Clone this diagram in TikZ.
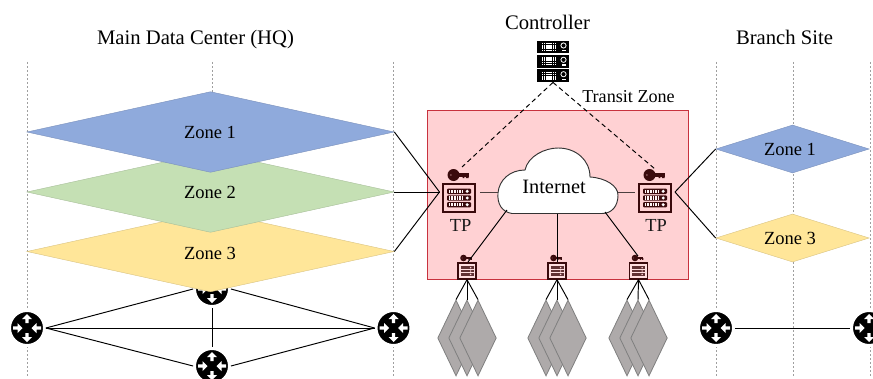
\documentclass[tikz,border=0pt]{standalone}
\usepackage{fontspec}
\setmainfont{Liberation Serif}
\usetikzlibrary{shapes.geometric,arrows.meta}
\definecolor{zblue}{HTML}{8FAADC}
\definecolor{zgreen}{HTML}{C5E0B4}
\definecolor{zyellow}{HTML}{FFE699}
\definecolor{tzfill}{HTML}{FFD1D3}
\definecolor{tzline}{HTML}{C8323E}
\definecolor{maroon}{HTML}{3A0A0C}
\definecolor{devgrey}{HTML}{AEAAAA}
\definecolor{devline}{HTML}{7F7F7F}
\tikzset{
  lab/.style={font=\fontsize{15.5}{18}\selectfont,inner sep=0pt,anchor=base},
  zonelab/.style={font=\fontsize{13.9}{16}\selectfont,inner sep=0pt},
  bigzone/.style={diamond,aspect=1,inner sep=0pt,minimum width=275.5pt,minimum height=60.5pt,draw=#1!85!black,line width=.3pt,fill=#1},
  smallzone/.style={diamond,aspect=1,inner sep=0pt,minimum width=115pt,minimum height=36pt,draw=#1!85!black,line width=.3pt,fill=#1},
  rackline/.style={gray!75,line width=.5pt,dash pattern=on 1.5pt off 1.5pt},
  conn/.style={black,line width=.72pt},
  ctrl/.style={black,line width=.72pt,dash pattern=on 3.5pt off 2.5pt},
  router/.style={circle,fill=black,draw=white,line width=2.2pt,minimum size=26.2pt,inner sep=0pt},
  tpbox/.style={rectangle,draw=maroon,fill=tzfill,line width=1.4pt,minimum width=23.5pt,minimum height=20.5pt,inner sep=0pt,outer sep=3pt},
  smallbox/.style={rectangle,draw=maroon,fill=tzfill!70!white,line width=1pt,minimum width=13.5pt,minimum height=12pt,inner sep=0pt},
  dev/.style={diamond,aspect=1,inner sep=0pt,minimum width=27.5pt,minimum height=57pt,draw=devline,line width=.6pt,fill=devgrey},
}
\newcommand{\routerglyph}[2]{%
  \begin{scope}[shift={(#1,#2)},fill=white,draw=none]
    \fill (-1.7,-5) -- (-1.7,-9) -- (-5,-9) -- (0,-14) -- (5,-9) -- (1.7,-9) -- (1.7,-5) -- cycle;
    \fill (-1.7,5) -- (-1.7,9) -- (-5,9) -- (0,14) -- (5,9) -- (1.7,9) -- (1.7,5) -- cycle;
    \fill (-14,-1.7) -- (-9.5,-1.7) -- (-9.5,-5) -- (-4.5,0) -- (-9.5,5) -- (-9.5,1.7) -- (-14,1.7) -- cycle;
    \fill (14,-1.7) -- (9.5,-1.7) -- (9.5,-5) -- (4.5,0) -- (9.5,5) -- (9.5,1.7) -- (14,1.7) -- cycle;
  \end{scope}}
\newcommand{\keyglyph}[3]{%
  \begin{scope}[shift={(#1,#2)},scale=#3]
    \fill[maroon] (0,0) circle[radius=6];
    \fill[maroon] (2,-1.6) rectangle (15,1.6);
    \fill[maroon] (9,0) rectangle (10.8,3.2) (12.4,0) rectangle (15,3.2);
    \fill[tzfill!40!maroon] (-2.6,0) circle[radius=1];
  \end{scope}}
\newcommand{\tprows}[2]{%
  \begin{scope}[shift={(#1,#2)}]
    \foreach \yy in {-6.7,0,6.7}{
      \fill[maroon,rounded corners=.8] (-12,\yy-2.7) rectangle (12,\yy+2.7);
      \foreach \xx in {-10,-8.4,...,4}{\fill[white!80!tzfill] (\xx,\yy-1.6) rectangle ++(1,3.2);}
      \fill[white] (8.2,\yy) circle[radius=1.7];
    }
  \end{scope}}
\newcommand{\smallrows}[2]{%
  \begin{scope}[shift={(#1,#2)}]
    \foreach \yy in {-3.4,0,3.4}{
      \fill[maroon!80!tzfill] (-6.5,\yy-1.3) rectangle (6.5,\yy+1.3);
      \fill[tzfill] (3.6,\yy) circle[radius=.8];
    }
  \end{scope}}
\newcommand{\ctrlrow}[2]{%
  \begin{scope}[shift={(#1,#2)}]
    \fill[black] (-16,-6.3) rectangle (16,6.3);
    \foreach \yy in {-4,-1.8,.4,2.6}{\foreach \xx in {-11.5,-9.3,...,3.8}{\fill[white] (\xx,\yy) rectangle ++(1.6,1.4);}}
    \draw[white,line width=.6pt] (10.5,-1.5) circle[radius=2.6];
    \fill[white] (8.5,3.2) rectangle (13,4.4);
  \end{scope}}
\begin{document}
\begin{tikzpicture}[x=.75pt,y=-.75pt]
\useasboundingbox (0,0) rectangle (873,378);
\foreach \x/\n in {27/a,212/b,393/c,716/d,793/e,870/f}{
  \coordinate (top\n) at (\x,62);
  \coordinate (bot\n) at (\x,378);
  \draw[rackline] (top\n) -- (bot\n);
}
\node[router] (r1) at (27,328) {};
\node[router] (r2) at (212,289) {};
\node[router] (r3) at (393.5,328) {};
\node[router] (r4) at (212,366) {};
\node[router] (r5) at (716,328) {};
\node[router] (r6) at (869,328) {};
\foreach \a/\b in {r1.east/r2.west,r1.east/r3.west,r1.east/r4.west,r2.east/r3.west,r4.east/r3.west,r2.south/r4.north,r5.east/r6.west}{
  \draw[conn] (\a) -- (\b);
}
\routerglyph{27}{328}\routerglyph{212}{289}\routerglyph{393.5}{328}\routerglyph{212}{366}\routerglyph{716}{328}\routerglyph{869}{328}
\node[bigzone=zyellow] (hz3) at (210.5,251.5) {};
\node[bigzone=zgreen] (hz2) at (210.5,192) {};
\node[bigzone=zblue] (hz1) at (210.5,132) {};
\node[zonelab] (hl1) at (210,132) {Zone 1};
\node[zonelab] (hl2) at (210,192) {Zone 2};
\node[zonelab] (hl3) at (210,253) {Zone 3};
\node[smallzone=zblue] (bz1) at (792.5,149) {};
\node[smallzone=zyellow] (bz3) at (792.5,238) {};
\node[zonelab] (bl1) at (790,149) {Zone 1};
\node[zonelab] (bl3) at (790,238) {Zone 3};
\node[rectangle,draw=tzline,fill=tzfill,line width=.9pt,minimum width=195.5pt,minimum height=126.5pt,inner sep=0pt,anchor=north west] (tz) at (427,110) {};
\node[inner sep=0pt,font=\fontsize{13.6}{16}\selectfont] (tzl) at (628.5,97) {Transit Zone};
\foreach \n/\x in {a1/456,a2/467,a3/478,b1/546,b2/557,b3/568,c1/627,c2/638,c3/649}{
  \node[dev] (d\n) at (\x,338) {};
}
\node[smallbox] (sa) at (467,271) {};
\node[smallbox] (sb) at (557,271) {};
\node[smallbox] (sc) at (638.5,271) {};
\foreach \s/\n in {a/a1,a/a2,a/a3,b/b1,b/b2,b/b3,c/c1,c/c2,c/c3}{
  \draw[black,line width=.72pt] (s\s.south) -- (d\n.north);
}
\smallrows{467}{271}\smallrows{557}{271}\smallrows{638.5}{271}
\keyglyph{463.5}{258}{.55}\keyglyph{553.5}{258}{.55}\keyglyph{635}{258}{.55}
\node[tpbox] (tpl) at (459,198) {};
\node[tpbox] (tpr) at (655,198) {};
\tprows{459}{198}\tprows{655}{198}
\keyglyph{453.5}{175}{1}\keyglyph{649.5}{175}{1}
\node[inner sep=0pt,anchor=base,font=\fontsize{13.8}{15}\selectfont,text=black!90] (tpll) at (460.5,231.7) {TP};
\node[inner sep=0pt,anchor=base,font=\fontsize{13.8}{15}\selectfont,text=black!90] (tprl) at (656,231.7) {TP};
\draw[black!80,fill=white,line width=.7pt] (512,213.5)
  .. controls (502,212) and (497,204) .. (498,193)
  .. controls (499,180) and (510,170) .. (525,170)
  .. controls (528,156) and (545,148) .. (558,148)
  .. controls (576,148) and (590,160) .. (590,177)
  .. controls (606,178) and (618,186) .. (618,195)
  .. controls (618,206) and (612,213.5) .. (602,213.5) -- cycle;
\node[inner sep=0pt,font=\fontsize{15.3}{18}\selectfont] (inet) at (554,187) {Internet};
\coordinate (cw) at (498,192);
\coordinate (ce) at (618,192);
\coordinate (cb1) at (507,210);
\coordinate (cb2) at (557,213.5);
\coordinate (cb3) at (605,212);
\coordinate (sat) at (468,262);
\coordinate (sbt) at (557,262);
\coordinate (sct) at (638,256);
\coordinate (tple) at (480,192);
\coordinate (tprw) at (635,192);
\draw[conn,black!70!tzfill] (tple) -- (cw);
\draw[conn,black!70!tzfill] (ce) -- (tprw);
\draw[conn] (cb1) -- (sat);
\draw[conn] (cb2) -- (sbt);
\draw[conn] (cb3) -- (sct);
\coordinate (tplt) at (439.5,192);
\coordinate (tprt) at (675,192);
\draw[conn] (hz1.east) -- (tplt);
\draw[conn] (hz2.east) -- (tplt);
\draw[conn] (hz3.east) -- (tplt);
\draw[conn] (bz1.west) -- (tprt);
\draw[conn] (bz3.west) -- (tprt);
\ctrlrow{553}{47}\ctrlrow{553}{61.3}\ctrlrow{553}{75.7}
\node[inner sep=0pt,minimum width=24pt,minimum height=31pt] (ctl) at (553,61.5) {};
\coordinate (kl) at (462,167);
\coordinate (kr) at (655,169);
\draw[ctrl] (ctl.south) -- (kl);
\draw[ctrl] (ctl.south) -- (kr);
\node[lab] (t1) at (195.5,44.7) {Main Data Center (HQ)};
\node[inner sep=0pt,font=\fontsize{15.5}{18}\selectfont] (t2) at (547.5,22) {Controller};
\node[lab] (t3) at (784.5,44.7) {Branch Site};
\end{tikzpicture}
\end{document}
